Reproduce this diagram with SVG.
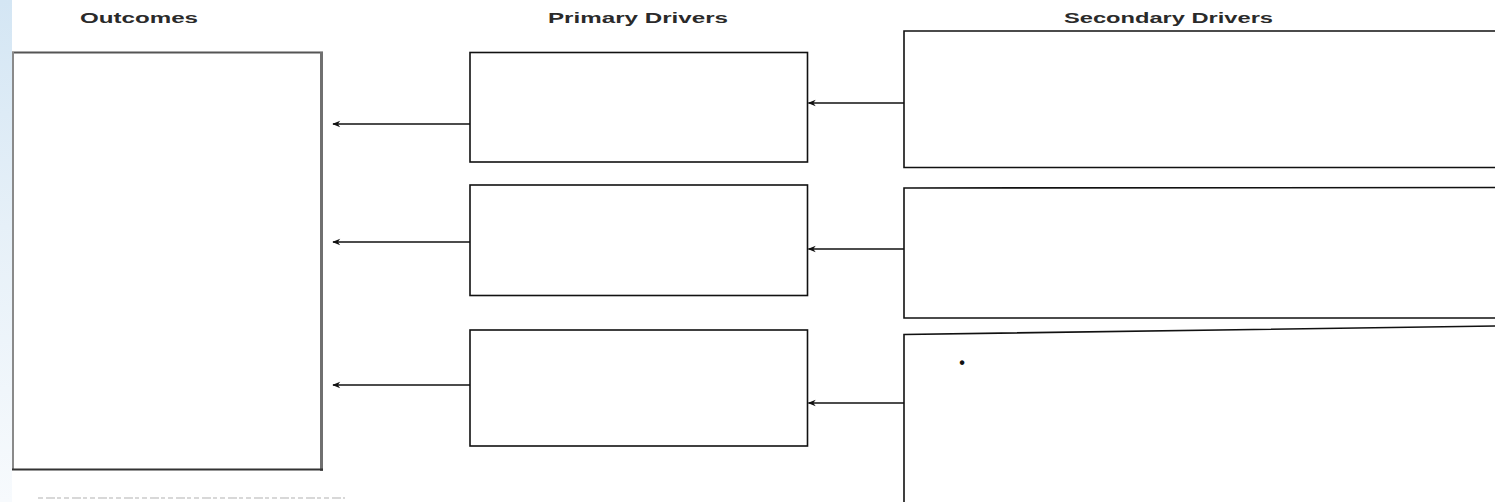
<svg xmlns="http://www.w3.org/2000/svg" width="1495" height="502" viewBox="0 0 1495 502">
<style>
.hdr{font-family:"Liberation Sans",Arial,sans-serif;font-weight:bold;font-size:14px;fill:#2a2a2a;}
.box{fill:#ffffff;stroke:#111;stroke-width:1.6;}
.conn{stroke:#111;stroke-width:1.3;fill:none;marker-end:url(#ah);}
</style>
<defs>
<marker id="ah" viewBox="0 0 10 10" refX="9" refY="5" markerWidth="10" markerHeight="8" markerUnits="userSpaceOnUse" orient="auto">
<path d="M0,1 L10,5 L0,9 L3,5 Z" fill="#111"/>
</marker>
<linearGradient id="blue" x1="0" y1="0" x2="0" y2="1">
<stop offset="0" stop-color="#d4e6f4"/>
<stop offset="0.45" stop-color="#e6f0f8"/>
<stop offset="1" stop-color="#f7fafd"/>
</linearGradient>
</defs>
<rect x="0" y="0" width="1495" height="502" fill="#ffffff"/>
<rect x="0" y="0" width="12" height="502" fill="url(#blue)"/>

<g id="headers">
<text class="hdr" x="80" y="23" textLength="118" lengthAdjust="spacingAndGlyphs">Outcomes</text>
<text class="hdr" x="548" y="23" textLength="180" lengthAdjust="spacingAndGlyphs">Primary Drivers</text>
<text class="hdr" x="1064" y="23" textLength="209" lengthAdjust="spacingAndGlyphs">Secondary Drivers</text>
</g>

<g id="outcomes">
<rect x="12" y="52" width="310" height="418" fill="#fff"/>
<line x1="12" y1="52.5" x2="323" y2="52.5" stroke="#555" stroke-width="2"/>
<line x1="13" y1="52" x2="13" y2="470" stroke="#8a8a8a" stroke-width="2"/>
<line x1="321.5" y1="52" x2="321.5" y2="471" stroke="#707070" stroke-width="3"/>
<line x1="12" y1="469.5" x2="323" y2="469.5" stroke="#333" stroke-width="2"/>
</g>

<g id="primary1"><rect class="box" x="470" y="52.5" width="337.5" height="109.5"/></g>
<g id="primary2"><rect class="box" x="470" y="185" width="337.5" height="110.5"/></g>
<g id="primary3"><rect class="box" x="470" y="330" width="337.5" height="116"/></g>

<g id="secondary1"><path class="box" d="M1497,31 L904,31 L904,167.5 L1497,167.5"/></g>
<g id="secondary2"><path class="box" d="M1497,187.5 L904,188 L904,318 L1497,318"/></g>
<g id="secondary3">
<path class="box" d="M1497,326 L904,334.5 L904,503"/>
<text x="962" y="368" font-family="'Liberation Sans',Arial,sans-serif" font-size="16" font-weight="bold" fill="#111" text-anchor="middle">•</text>
</g>

<g id="connectors">
<line class="conn" x1="470" y1="124" x2="333" y2="124"/>
<line class="conn" x1="470" y1="242" x2="333" y2="242"/>
<line class="conn" x1="470" y1="385" x2="333" y2="385"/>
<line class="conn" x1="904" y1="103" x2="808.5" y2="103"/>
<line class="conn" x1="904" y1="249" x2="808.5" y2="249"/>
<line class="conn" x1="904" y1="403" x2="808.5" y2="403"/>
</g>

<line x1="38" y1="498" x2="345" y2="498" stroke="#d8d8d8" stroke-width="2" stroke-dasharray="5 3 9 2 4 3"/>
</svg>
